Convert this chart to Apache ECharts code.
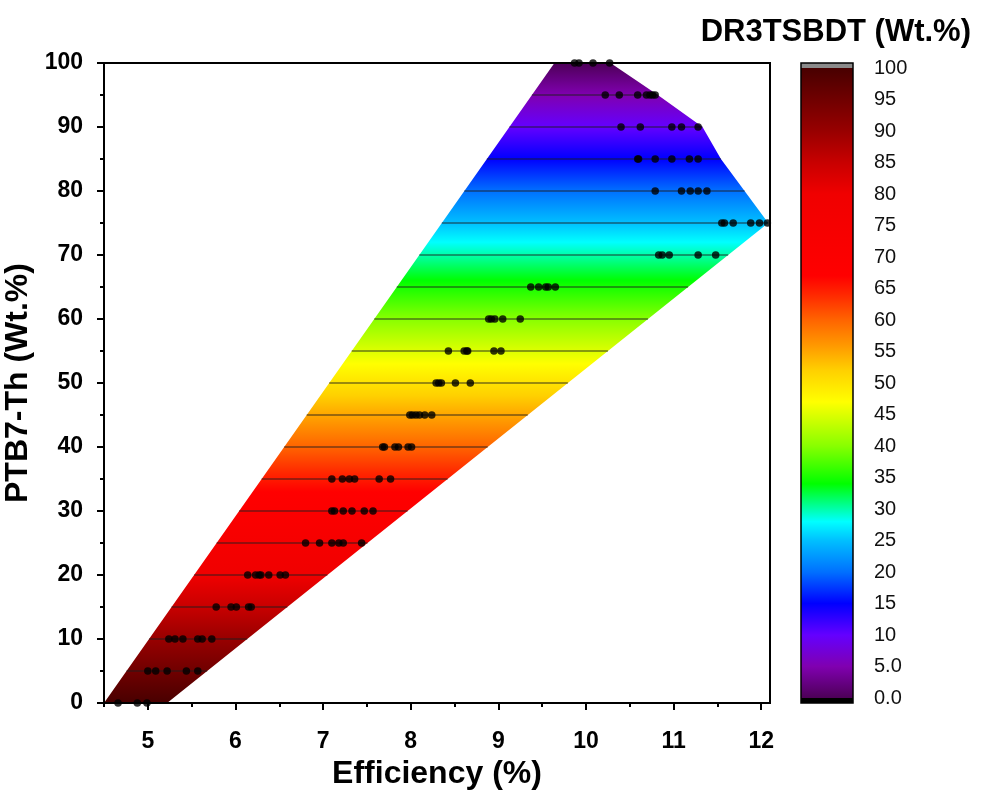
<!DOCTYPE html>
<html><head><meta charset="utf-8">
<script src="https://cdn.jsdelivr.net/npm/echarts@6/dist/echarts.min.js"></script>
<style>html,body{margin:0;padding:0;background:#fff}#c{width:987px;height:791px}</style>
</head><body><div id="c"></div><script>
// ---- data ----
const xTickLabels = [5, 6, 7, 8, 9, 10, 11, 12];
const xMinorTicks = [4.5, 5.5, 6.5, 7.5, 8.5, 9.5, 10.5, 11.5];
const ptb7Levels = [0, 5, 10, 15, 20, 25, 30, 35, 40, 45, 50, 55, 60, 65, 70, 75, 80, 85, 90, 95, 100];
const efficiencyByLevel = [
  [4.66, 4.88, 4.99],
  [5.00, 5.09, 5.22, 5.44, 5.57],
  [5.24, 5.31, 5.40, 5.57, 5.62, 5.73],
  [5.78, 5.95, 6.01, 6.15, 6.18],
  [6.14, 6.23, 6.27, 6.29, 6.38, 6.51, 6.57],
  [6.80, 6.96, 7.10, 7.18, 7.23, 7.44],
  [7.10, 7.13, 7.23, 7.33, 7.47, 7.57],
  [7.10, 7.22, 7.30, 7.36, 7.64, 7.77],
  [7.68, 7.70, 7.82, 7.86, 7.97, 8.01],
  [7.99, 8.02, 8.06, 8.10, 8.16, 8.24],
  [8.29, 8.32, 8.35, 8.51, 8.68],
  [8.43, 8.61, 8.64, 8.65, 8.95, 9.03],
  [8.89, 8.92, 8.96, 9.05, 9.25],
  [9.37, 9.46, 9.54, 9.57, 9.65],
  [10.83, 10.87, 10.95, 11.28, 11.48],
  [11.55, 11.58, 11.68, 11.88, 11.98, 12.07],
  [10.79, 11.09, 11.19, 11.28, 11.38],
  [10.59, 10.60, 10.79, 10.98, 11.18, 11.28],
  [10.40, 10.62, 10.98, 11.09, 11.28],
  [10.22, 10.38, 10.59, 10.69, 10.73, 10.76, 10.79],
  [9.87, 9.92, 10.08, 10.27]
];
// outline of the filled region (Efficiency, PTB7-Th)
const boundaryEff   = [4.50, 9.64, 10.28, 10.82, 11.33, 11.54, 11.81, 12.08, 5.22];
const boundaryPTB7  = [0, 100, 100, 95, 90, 85, 80, 75, 0];
const contourLevels = [5, 10, 15, 20, 25, 30, 35, 40, 45, 50, 55, 60, 65, 70, 75, 80, 85, 90, 95];
const colorbarTicks = [0, 5, 10, 15, 20, 25, 30, 35, 40, 45, 50, 55, 60, 65, 70, 75, 80, 85, 90, 95, 100];
// colour map: DR3TSBDT value -> colour
const cmapValues = [0, 5, 10, 15, 20, 25, 28, 31, 34, 40, 47, 52, 56, 60, 64, 67, 80, 85, 90, 95, 100];
const cmapColors = ['#4d0057', '#8000b0', '#6400ff', '#0000ff', '#0070ff', '#00c0ff', '#00ffff', '#00ff80', '#00ff00',
  '#88ff00', '#ffff00', '#ffd000', '#ff9800', '#ff6400', '#ff2800', '#ff0000', '#f00000', '#c80000', '#980000', '#700000', '#480000'];

// ---- build ----
const FONT = '"Liberation Sans", Arial, sans-serif';
const dots = [];
ptb7Levels.forEach((lv, i) => efficiencyByLevel[i].forEach(e => dots.push([e, lv])));

function span(level) {
  const xs = [];
  const n = boundaryEff.length;
  for (let i = 0; i < n; i++) {
    const x1 = boundaryEff[i], y1 = boundaryPTB7[i];
    const x2 = boundaryEff[(i + 1) % n], y2 = boundaryPTB7[(i + 1) % n];
    if ((level - y1) * (level - y2) <= 0 && y1 !== y2) {
      xs.push(x1 + (x2 - x1) * (level - y1) / (y2 - y1));
    }
  }
  return [Math.min.apply(null, xs), Math.max.apply(null, xs)];
}

const chart = echarts.init(document.getElementById('c'), null, { renderer: 'canvas' });
const axisBlack = { color: '#000', width: 2 };

chart.setOption({
  backgroundColor: '#fff',
  animation: false,
  title: {
    text: 'DR3TSBDT (Wt.%)', right: 11, top: 12,
    textStyle: { fontFamily: FONT, fontWeight: 'bold', fontSize: 31, color: '#000' }
  },
  grid: [
    { left: 104, top: 63, width: 666, height: 640, show: true, borderColor: '#000', borderWidth: 2, z: 5,
      backgroundColor: 'transparent', containLabel: false, outerBoundsMode: 'none' },
    { left: 801, top: 68, width: 52, height: 630, containLabel: false, outerBoundsMode: 'none' }
  ],
  xAxis: [
    {
      gridIndex: 0, type: 'value', min: 4.5, max: 12.1, position: 'bottom',
      name: 'Efficiency (%)', nameLocation: 'middle', nameGap: 54,
      nameTextStyle: { fontFamily: FONT, fontWeight: 'bold', fontSize: 32, color: '#000' },
      axisLine: { show: true, lineStyle: axisBlack }, z: 6,
      axisTick: { show: true, length: 7, lineStyle: axisBlack, customValues: xTickLabels },
      axisLabel: { customValues: xTickLabels, margin: 27, fontFamily: FONT, fontWeight: 'bold', fontSize: 23, color: '#000' },
      splitLine: { show: false }
    },
    {
      gridIndex: 0, type: 'value', min: 4.5, max: 12.1, position: 'bottom',
      axisLine: { show: false },
      axisTick: { show: true, length: 4, lineStyle: axisBlack, customValues: xMinorTicks },
      axisLabel: { show: false }, splitLine: { show: false }
    },
    { gridIndex: 1, type: 'value', min: 0, max: 1, show: false }
  ],
  yAxis: [
    {
      gridIndex: 0, type: 'value', min: 0, max: 100, interval: 10, position: 'left',
      name: 'PTB7-Th (Wt.%)', nameLocation: 'middle', nameGap: 57,
      nameTextStyle: { fontFamily: FONT, fontWeight: 'bold', fontSize: 32, color: '#000' },
      axisLine: { show: true, lineStyle: axisBlack }, z: 6,
      axisTick: { show: true, length: 7, lineStyle: axisBlack },
      minorTick: { show: true, splitNumber: 2, length: 4, lineStyle: axisBlack },
      axisLabel: { margin: 21, fontFamily: FONT, fontWeight: 'bold', fontSize: 23, color: '#000' },
      splitLine: { show: false }, minorSplitLine: { show: false }
    },
    {
      gridIndex: 1, type: 'value', min: 0, max: 100, position: 'right',
      axisLine: { show: false },
      axisTick: { show: true, length: 11, lineStyle: { color: '#000', width: 1.5 }, customValues: colorbarTicks },
      axisLabel: {
        customValues: colorbarTicks, margin: 21, fontFamily: FONT, fontSize: 20, color: '#111',
        formatter: v => (v < 10 ? v.toFixed(1) : String(v))
      },
      splitLine: { show: false }
    }
  ],
  series: [
    {
      type: 'custom', xAxisIndex: 0, yAxisIndex: 0, data: [[4.5, 0]], z: 1, silent: true,
      renderItem: function (params, api) {
        const pts = boundaryEff.map((x, i) => api.coord([x, boundaryPTB7[i]]));
        const yTop = api.coord([4.5, 100])[1], yBot = api.coord([4.5, 0])[1];
        const stops = cmapValues.map((v, i) => ({ offset: v / 100, color: cmapColors[i] }));
        const children = [{
          type: 'polygon', shape: { points: pts },
          style: { fill: new echarts.graphic.LinearGradient(0, yTop, 0, yBot, stops, true) }
        }];
        contourLevels.forEach(L => {
          const s = span(L);
          const a = api.coord([s[0], L]), b = api.coord([s[1], L]);
          children.push({ type: 'line', shape: { x1: a[0], y1: a[1], x2: b[0], y2: b[1] }, style: { stroke: 'rgba(30,30,30,0.9)', lineWidth: 1.2 } });
        });
        return { type: 'group', children: children };
      }
    },
    {
      type: 'scatter', xAxisIndex: 0, yAxisIndex: 0, data: dots, symbol: 'circle', symbolSize: 7.5,
      itemStyle: { color: '#000' }, z: 3, clip: false
    },
    {
      type: 'custom', xAxisIndex: 2, yAxisIndex: 1, data: [[0, 0]], silent: true,
      renderItem: function (params, api) {
        const tl = api.coord([0, 100]), br = api.coord([1, 0]);
        const x = tl[0], w = br[0] - tl[0], y = tl[1], h = br[1] - tl[1];
        const stops = cmapValues.map((v, i) => ({ offset: 1 - v / 100, color: cmapColors[i] })).reverse();
        return {
          type: 'group', children: [
            { type: 'rect', shape: { x: x, y: y, width: w, height: h }, style: { fill: new echarts.graphic.LinearGradient(0, 0, 0, 1, stops) } },
            { type: 'rect', shape: { x: x, y: y - 5, width: w, height: 5 }, style: { fill: '#8a8a8a' } },
            { type: 'rect', shape: { x: x, y: y + h, width: w, height: 5 }, style: { fill: '#000' } },
            { type: 'rect', shape: { x: x, y: y - 5, width: w, height: h + 10 }, style: { fill: 'none', stroke: '#000', lineWidth: 1.5 } }
          ]
        };
      }
    }
  ]
});
</script></body></html>
